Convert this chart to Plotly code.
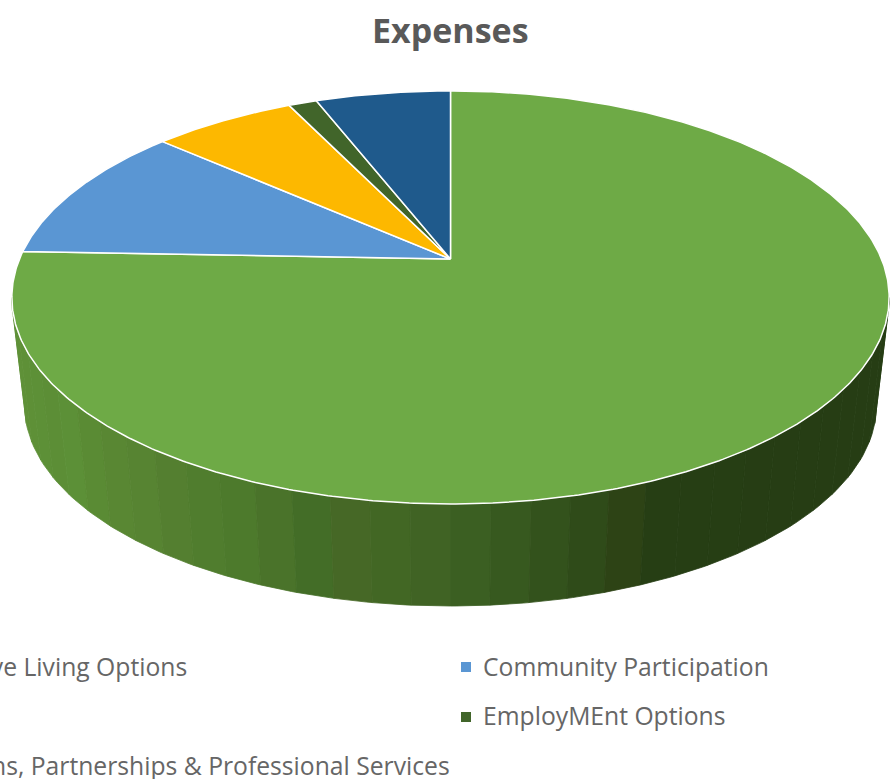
import numpy as np
import plotly.graph_objects as go

# Data (share of expenses, %), clockwise from 12 o'clock
# The yellow slice's legend label lies wholly outside the reference's frame, so it is unnamed.
categories = ["Supportive Living Options", "Community Participation", "(label not visible)",
              "EmployMEnt Options", "Communications, Partnerships & Professional Services"]
values = [75.6, 10.9, 6.3, 1.25, 5.95]
colors = ["#6EAA46", "#5A96D3", "#FDB800", "#41652A", "#1F5A8C"]
title_text = "Expenses"

# Side wall shading, left to right
wall_colors = ["#5F9138", "#5F9138", "#5E9037", "#5D9037", "#5C8E36", "#5C9037", "#5A8B34",
               "#598733", "#578432", "#547F30", "#507D2E", "#4D7A2C", "#4A732A", "#436D27",
               "#466826", "#426724", "#406324", "#3B5F22", "#37591F", "#33521C", "#2F4B19",
               "#2D4315", "#263E14", "#263E14", "#263E14", "#263D14", "#263D14", "#263D14",
               "#263D14", "#263D14", "#263D14", "#263D14", "#263D14", "#263D14"]

# Projection of the pie disc to the page
AX, AY = 450.5, 259.0
A, B, K = 431.0, 199.4, 0.186


def disc(frac):
    th = 2 * np.pi * np.asarray(frac)
    u, v = np.sin(th), -np.cos(th)
    w = 1 - K * v
    return AX + A * u / w, AY + B * v / w


def top_edge(t):
    return 450.5 + 439 * np.sin(t), 297.5 + 206.5 * np.cos(t)


def low_edge(t):
    return 450.5 + 426 * np.sin(t), 405 + 201 * np.cos(t)


fig = go.Figure()

# side wall bands
edges = np.linspace(-np.pi / 2, np.pi / 2, len(wall_colors) + 1)
for i, c in enumerate(wall_colors):
    t = np.linspace(edges[i], edges[i + 1], 8)
    xt, yt = top_edge(t)
    xl, yl = low_edge(t[::-1])
    fig.add_trace(go.Scatter(x=np.r_[xt, xl, xt[0]], y=np.r_[yt, yl, yt[0]], mode="lines",
                             fill="toself", fillcolor=c, line=dict(color=c, width=0.8),
                             hoverinfo="skip", showlegend=False))

# top face slices
cum = np.r_[0, np.cumsum(values)] / np.sum(values)
for i, name in enumerate(categories):
    f = np.linspace(cum[i], cum[i + 1], max(6, int((cum[i + 1] - cum[i]) * 720)))
    x, y = disc(f)
    fig.add_trace(go.Scatter(x=np.r_[AX, x, AX], y=np.r_[AY, y, AY], mode="lines", fill="toself",
                             fillcolor=colors[i], line=dict(color="#FFFFFF", width=1.5),
                             name=name, text=f"{name}: {values[i]}%", hoverinfo="text",
                             showlegend=False))

# legend markers (those inside the frame)
fig.add_trace(go.Scatter(x=[466, 466], y=[667, 717], mode="markers",
                         marker=dict(symbol="square", size=10, color=[colors[1], colors[3]]),
                         hoverinfo="skip", showlegend=False))

FONT = "Open Sans"
TXT = "#666666"
legend_labels = [
    (categories[0], 189, 666, "right"),
    (categories[1], 481, 666, "left"),
    (categories[3], 481, 715, "left"),
    (categories[4], 452, 765, "right"),
]
ann = [dict(x=x, y=y, xref="x", yref="y", text=s, showarrow=False, xanchor=a, yanchor="middle",
            font=dict(family=FONT, size=24.7, color=TXT)) for s, x, y, a in legend_labels]
ann.append(dict(x=450, y=30, xref="x", yref="y", text=f"<b>{title_text}</b>", showarrow=False,
                xanchor="center", yanchor="middle", font=dict(family=FONT, size=34, color="#595959")))

fig.update_layout(
    width=895, height=779, autosize=False,
    margin=dict(l=0, r=0, t=0, b=0),
    paper_bgcolor="#FFFFFF", plot_bgcolor="#FFFFFF",
    xaxis=dict(range=[0, 895], visible=False, fixedrange=True),
    yaxis=dict(range=[779, 0], visible=False, fixedrange=True),
    annotations=ann,
)
fig.write_html("out.html", config={"displayModeBar": False},
               post_script="document.body.style.margin='0';document.body.style.overflow='hidden';")
